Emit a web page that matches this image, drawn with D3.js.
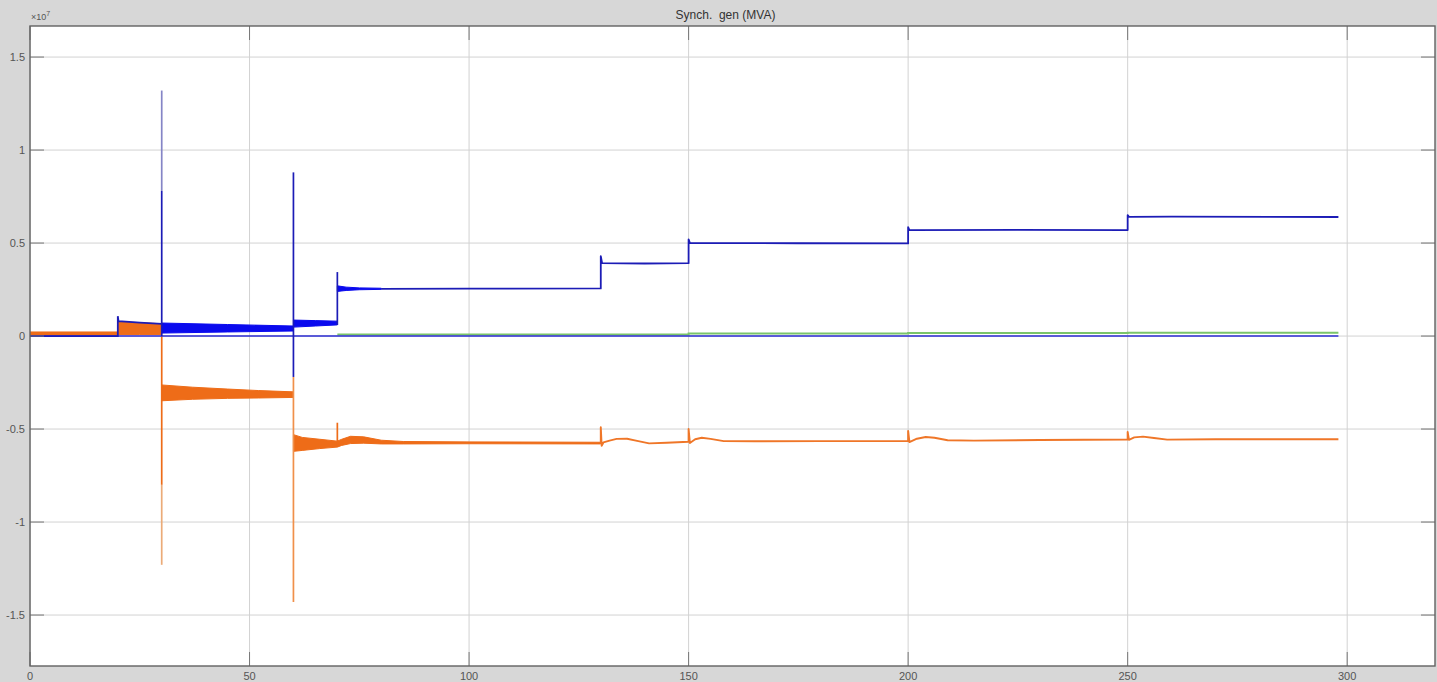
<!DOCTYPE html>
<html>
<head>
<meta charset="utf-8">
<script src="https://cdn.jsdelivr.net/npm/d3@7/dist/d3.min.js"></script>
<style>
  html, body { margin: 0; padding: 0; background: #d7d7d7; }
  svg { display: block; font-family: "Liberation Sans", Arial, sans-serif; }
</style>
</head>
<body>
<svg id="chart" width="1437" height="682"></svg>
<script>
// Synchronous generator power (values in units of 1e7 VA), time in seconds.
const titleText = "Synch.  gen (MVA)";
const xTicks = [0, 50, 100, 150, 200, 250, 300];
const yTicks = [-1.5, -1, -0.5, 0, 0.5, 1, 1.5];
const yTickLabels = ["-1.5", "-1", "-0.5", "0", "0.5", "1", "1.5"];
const xDomain = [0, 320];
const yDomain = [-1.774, 1.667];

// Active power trace [t, value]
const activeTrace = [
  [0, 0], [20, 0], [20, 0.107], [20.15, 0.08], [25, 0.072], [30, 0.065]
];
const activeTraceLate = [
  [80, 0.254], [100, 0.255], [130, 0.256], [130, 0.43], [130.3, 0.392],
  [140, 0.39], [150, 0.392], [150, 0.52], [150.3, 0.5], [175, 0.499],
  [200, 0.498], [200, 0.585], [200.3, 0.57], [225, 0.571], [250, 0.57],
  [250, 0.65], [250.3, 0.641], [260, 0.642], [298, 0.64]
];
// Oscillation envelopes of active power [t, low, high]
const activeBand1 = [[30, 0.016, 0.07], [45, 0.022, 0.062], [60, 0.027, 0.054]];
const activeBand2 = [[60, 0.048, 0.086], [65, 0.054, 0.083], [70, 0.06, 0.08]];
const activeBand3 = [[70, 0.24, 0.27], [72, 0.245, 0.263], [75, 0.249, 0.259], [80, 0.251, 0.257]];

// Second generator trace near zero
const zeroTrace = [[0, 0], [298, 0]];

// Reactive power envelopes [t, low, high]
const reactiveBand0 = [[0, 0.004, 0.022], [20, 0.004, 0.022]];
const reactiveBand1 = [[20, 0.008, 0.078], [25, 0.008, 0.072], [30, 0.008, 0.066]];
const reactiveBand2 = [[30, -0.348, -0.263], [37, -0.34, -0.275], [45, -0.335, -0.285], [52, -0.333, -0.293], [60, -0.33, -0.3]];
const reactiveBand3 = [
  [60, -0.62, -0.53], [62, -0.615, -0.545], [66, -0.605, -0.555], [70, -0.597, -0.565],
  [71, -0.588, -0.555], [73, -0.578, -0.539], [76, -0.576, -0.542], [80, -0.58, -0.56],
  [85, -0.58, -0.567], [100, -0.579, -0.569], [130, -0.58, -0.571]
];
const reactiveTrace = [
  [130, -0.576], [130, -0.49], [130.2, -0.59], [130.6, -0.572], [132, -0.562], [133.6, -0.553],
  [136, -0.552], [138, -0.562], [141, -0.577], [145, -0.574], [150, -0.568],
  [150, -0.5], [150.3, -0.575], [151.5, -0.555], [153, -0.547], [155, -0.553],
  [158, -0.565], [165, -0.566], [180, -0.565], [200, -0.565],
  [200, -0.51], [200.3, -0.57], [202, -0.552], [204, -0.543], [206, -0.547],
  [209, -0.56], [215, -0.562], [230, -0.559], [250, -0.556],
  [250, -0.516], [250.3, -0.558], [251.5, -0.545], [253.5, -0.541], [256, -0.548],
  [259, -0.557], [270, -0.555], [285, -0.555], [298, -0.555]
];

// Third trace (small output from t = 70 s)
const greenTrace = [
  [70, 0.009], [150, 0.009], [150, 0.014], [200, 0.014],
  [200, 0.017], [250, 0.017], [250, 0.018], [298, 0.018]
];

// Switching transients [t, from, to, colourKey]
const spikes = [
  [30, 0.78, 1.32, "blueLight"],
  [30, 0.0, 0.78, "blue"],
  [30, 0.0, -0.8, "orange"],
  [30, -0.8, -1.23, "orangeLight"],
  [60, -0.22, 0.88, "blue"],
  [60, -0.22, -1.43, "orangeMid"],
  [70, 0.06, 0.344, "blue"],
  [70, -0.597, -0.466, "orange"]
];

const colors = {
  blue: "#1c1cb6",
  blueBand: "#0a0aee",
  blueZero: "#2b2bd2",
  blueLight: "#8585c6",
  orange: "#ee6c18",
  orangeTrace: "#ef7628",
  orangeMid: "#f0904a",
  orangeLight: "#ebab78",
  green: "#7ac46a"
};

const svg = d3.select("#chart");
const L = 30, R = 1435, T = 26, B = 666;
const x = d3.scaleLinear().domain(xDomain).range([L, R]);
const y = d3.scaleLinear().domain(yDomain).range([B, T]);

// Plot area
svg.append("rect").attr("x", L).attr("y", T).attr("width", R - L).attr("height", B - T).attr("fill", "#ffffff");

svg.append("defs").append("clipPath").attr("id", "plotClip")
  .append("rect").attr("x", L).attr("y", T).attr("width", R - L).attr("height", B - T);

// Grid
const grid = svg.append("g");
grid.selectAll(".gx").data(xTicks).join("line")
  .attr("x1", d => x(d)).attr("x2", d => x(d)).attr("y1", T).attr("y2", B)
  .attr("stroke", "#d2d2d2").attr("stroke-width", 1);
grid.selectAll(".gy").data(yTicks).join("line")
  .attr("x1", L).attr("x2", R).attr("y1", d => y(d)).attr("y2", d => y(d))
  .attr("stroke", "#d2d2d2").attr("stroke-width", 1);

const plot = svg.append("g").attr("clip-path", "url(#plotClip)");

const line = d3.line().x(d => x(d[0])).y(d => y(d[1]));
const band = d3.area().x(d => x(d[0])).y0(d => y(d[1])).y1(d => y(d[2]));

// Reactive power
[reactiveBand0, reactiveBand1, reactiveBand2, reactiveBand3].forEach(b => {
  plot.append("path").attr("d", band(b)).attr("fill", colors.orange)
    .attr("stroke", colors.orange).attr("stroke-width", 1);
});
plot.append("path").attr("d", line(reactiveTrace)).attr("fill", "none")
  .attr("stroke", colors.orangeTrace).attr("stroke-width", 1.9).attr("stroke-linejoin", "round");

// Orange transients
plot.selectAll(".spo").data(spikes.filter(s => s[3].startsWith("orange"))).join("line")
  .attr("x1", d => x(d[0])).attr("x2", d => x(d[0]))
  .attr("y1", d => y(d[1])).attr("y2", d => y(d[2]))
  .attr("stroke", d => colors[d[3]]).attr("stroke-width", 1.7);

// Third trace
plot.append("path").attr("d", line(greenTrace)).attr("fill", "none")
  .attr("stroke", colors.green).attr("stroke-width", 2);

// Zero trace
plot.append("path").attr("d", line(zeroTrace)).attr("fill", "none")
  .attr("stroke", colors.blueZero).attr("stroke-width", 1.6);

// Active power
[activeBand1, activeBand2, activeBand3].forEach(b => {
  plot.append("path").attr("d", band(b)).attr("fill", colors.blueBand)
    .attr("stroke", colors.blueBand).attr("stroke-width", 1);
});
plot.append("path").attr("d", line(activeTrace)).attr("fill", "none")
  .attr("stroke", colors.blue).attr("stroke-width", 1.8);
plot.append("path").attr("d", line(activeTraceLate)).attr("fill", "none")
  .attr("stroke", colors.blue).attr("stroke-width", 1.8).attr("stroke-linejoin", "round");

plot.selectAll(".spb").data(spikes.filter(s => s[3].startsWith("blue"))).join("line")
  .attr("x1", d => x(d[0])).attr("x2", d => x(d[0]))
  .attr("y1", d => y(d[1])).attr("y2", d => y(d[2]))
  .attr("stroke", d => colors[d[3]]).attr("stroke-width", 1.7);

// Axes box and inward ticks
const axes = svg.append("g");
const tickLen = 14;
axes.selectAll(".tb").data(xTicks).join("line")
  .attr("x1", d => x(d)).attr("x2", d => x(d)).attr("y1", B).attr("y2", B - tickLen)
  .attr("stroke", "#777").attr("stroke-width", 1);
axes.selectAll(".tt").data(xTicks).join("line")
  .attr("x1", d => x(d)).attr("x2", d => x(d)).attr("y1", T).attr("y2", T + tickLen)
  .attr("stroke", "#777").attr("stroke-width", 1);
axes.selectAll(".tl").data(yTicks).join("line")
  .attr("x1", L).attr("x2", L + tickLen).attr("y1", d => y(d)).attr("y2", d => y(d))
  .attr("stroke", "#777").attr("stroke-width", 1);
axes.selectAll(".tr").data(yTicks).join("line")
  .attr("x1", R).attr("x2", R - tickLen).attr("y1", d => y(d)).attr("y2", d => y(d))
  .attr("stroke", "#777").attr("stroke-width", 1);
axes.append("rect").attr("x", L).attr("y", T).attr("width", R - L).attr("height", B - T)
  .attr("fill", "none").attr("stroke", "#626262").attr("stroke-width", 1.4);

// Tick labels
axes.selectAll(".xl").data(xTicks).join("text")
  .attr("x", d => x(d)).attr("y", 680).attr("text-anchor", "middle")
  .attr("font-size", 11).attr("fill", "#555").text(d => d);
axes.selectAll(".yl").data(yTicks).join("text")
  .attr("x", 25).attr("y", d => y(d) + 4).attr("text-anchor", "end")
  .attr("font-size", 11).attr("fill", "#555").text((d, i) => yTickLabels[i]);

// Exponent label
const ex = axes.append("text").attr("x", 31).attr("y", 20).attr("font-size", 9).attr("fill", "#555");
ex.append("tspan").text("\u00d710");
ex.append("tspan").attr("dy", -4).attr("font-size", 7).text("7");

// Title
svg.append("text").attr("x", (L + R) / 2 - 7).attr("y", 19).attr("text-anchor", "middle")
  .attr("font-size", 12).attr("fill", "#333").style("white-space", "pre").text(titleText);
</script>
</body>
</html>
